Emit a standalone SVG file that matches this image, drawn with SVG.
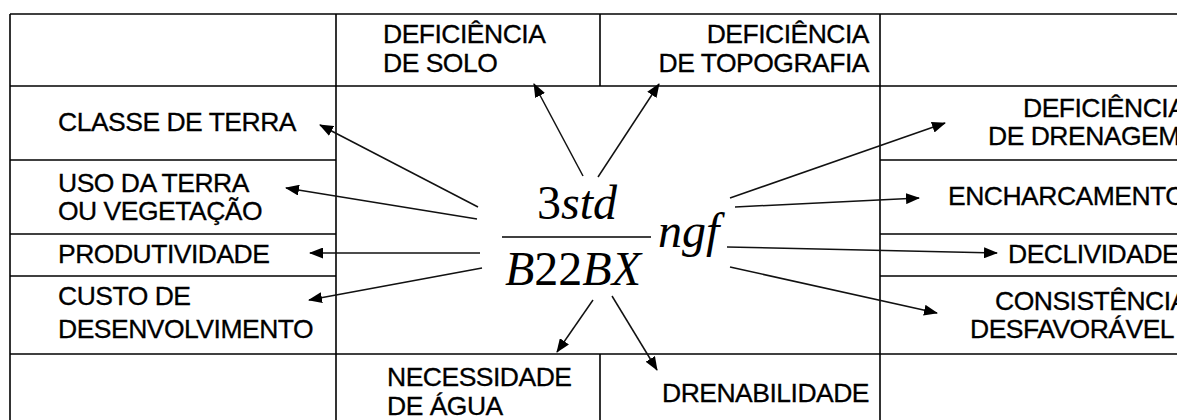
<svg xmlns="http://www.w3.org/2000/svg" width="1177" height="420" viewBox="0 0 1177 420">
<style>
.grid{stroke:#000;stroke-width:1.6;fill:none}
.lbl{font-family:"Liberation Sans",Arial,sans-serif;font-size:26.5px;letter-spacing:-0.5px;fill:#000;stroke:#000;stroke-width:0.3}
.math{font-family:"Liberation Serif","Times New Roman",serif;font-size:48px;fill:#000}
.it{font-style:italic}
.con{stroke:#111;stroke-width:1.5;fill:none}
</style>
<defs>
<marker id="ah" viewBox="0 0 14 11" refX="13" refY="5.5" markerWidth="14" markerHeight="11" markerUnits="userSpaceOnUse" orient="auto">
<path d="M0,0 L14,5.5 L0,11 Z" fill="#000"/>
</marker>
</defs>
<rect width="1177" height="420" fill="#fff"/>
<g id="table" class="grid">
<line x1="10" y1="14" x2="1177" y2="14"/>
<line x1="10" y1="14" x2="10" y2="420"/>
<line x1="336" y1="14" x2="336" y2="420"/>
<line x1="880" y1="14" x2="880" y2="420"/>
<line x1="600" y1="14" x2="600" y2="86"/>
<line x1="600" y1="354" x2="600" y2="420"/>
<line x1="10" y1="86" x2="1177" y2="86"/>
<line x1="10" y1="354" x2="1177" y2="354"/>
<line x1="10" y1="160" x2="336" y2="160"/>
<line x1="10" y1="234" x2="336" y2="234"/>
<line x1="10" y1="276" x2="336" y2="276"/>
<line x1="880" y1="160" x2="1177" y2="160"/>
<line x1="880" y1="234" x2="1177" y2="234"/>
<line x1="880" y1="276" x2="1177" y2="276"/>
</g>
<g id="n-solo"><text class="lbl" x="383" y="43">DEFICIÊNCIA</text><text class="lbl" x="383" y="72">DE SOLO</text></g>
<g id="n-topografia"><text class="lbl" x="869" y="43" text-anchor="end">DEFICIÊNCIA</text><text class="lbl" x="869" y="72" text-anchor="end">DE TOPOGRAFIA</text></g>
<g id="n-classe"><text class="lbl" x="58" y="131">CLASSE DE TERRA</text></g>
<g id="n-uso"><text class="lbl" x="58" y="192">USO DA TERRA</text><text class="lbl" x="58" y="220">OU VEGETAÇÃO</text></g>
<g id="n-produtividade"><text class="lbl" x="58" y="263">PRODUTIVIDADE</text></g>
<g id="n-custo"><text class="lbl" x="58" y="305">CUSTO  DE</text><text class="lbl" x="58" y="338">DESENVOLVIMENTO</text></g>
<g id="n-drenagem"><text class="lbl" x="1023" y="117">DEFICIÊNCIA</text><text class="lbl" x="988" y="145">DE DRENAGEM</text></g>
<g id="n-encharcamento"><text class="lbl" x="948" y="205">ENCHARCAMENTO</text></g>
<g id="n-declividade"><text class="lbl" x="1008" y="263">DECLIVIDADE</text></g>
<g id="n-consistencia"><text class="lbl" x="995" y="310">CONSISTÊNCIA</text><text class="lbl" x="970" y="338">DESFAVORÁVEL</text></g>
<g id="n-necessidade"><text class="lbl" x="387" y="386">NECESSIDADE</text><text class="lbl" x="387" y="415">DE ÁGUA</text></g>
<g id="n-drenabilidade"><text class="lbl" x="662" y="402">DRENABILIDADE</text></g>
<g id="n-center">
<text class="math" x="537" y="219">3<tspan class="it">std</tspan></text>
<line x1="502" y1="237" x2="651" y2="237" stroke="#000" stroke-width="1.6"/>
<text class="math" x="505" y="285"><tspan class="it">B</tspan>22<tspan class="it">BX</tspan></text>
<text class="math it" x="658" y="247">ngf</text>
</g>
<g id="connectors" class="con" marker-end="url(#ah)">
<line x1="478" y1="207" x2="320" y2="125"/>
<line x1="477" y1="219" x2="286" y2="188"/>
<line x1="480" y1="253" x2="310" y2="253"/>
<line x1="482" y1="268" x2="309" y2="300"/>
<line x1="583" y1="176" x2="534" y2="84"/>
<line x1="598" y1="177" x2="659" y2="84"/>
<line x1="730" y1="198" x2="945" y2="123"/>
<line x1="735" y1="207" x2="919" y2="198"/>
<line x1="727" y1="247" x2="997" y2="253"/>
<line x1="730" y1="267" x2="937" y2="313"/>
<line x1="593" y1="300" x2="557" y2="352"/>
<line x1="612" y1="296" x2="657" y2="370"/>
</g>
</svg>
